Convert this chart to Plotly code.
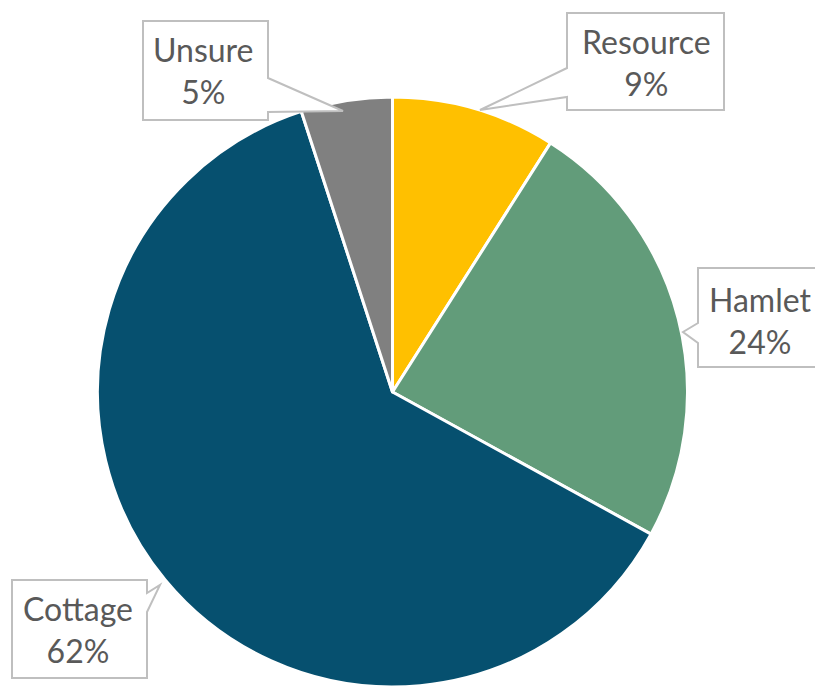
import plotly.graph_objects as go

labels = ["Resource", "Hamlet", "Cottage", "Unsure"]
values = [9, 24, 62, 5]
colors = ["#FFC000", "#629C7A", "#06506F", "#808080"]

W, H = 815, 687

cx, top = 392.5, 97
fig = go.Figure(go.Pie(
    labels=labels, values=values, sort=False, direction="clockwise", rotation=0,
    marker=dict(colors=colors, line=dict(color="white", width=3)),
    textinfo="none", hoverinfo="label+percent", showlegend=False,
    domain=dict(x=[(cx - 300) / W, (cx + 300) / W], y=[0, 1 - top / H]),
))

def px(x, y):
    return x / W, 1 - y / H

# callout geometry in pixels: box (l, t, r, b), tail (base1, tip, base2), text center
callouts = {
    "Unsure": ((143, 21, 268, 120), ((268, 78), (343, 111), (268, 112)), (203, 71)),
    "Resource": ((567, 13, 724, 110), ((567, 68), (480, 110), (567, 97)), (646, 63)),
    "Hamlet": ((698, 268, 835, 367), ((698, 323), (683, 332), (698, 343)), (760, 320)),
    "Cottage": ((12, 580, 147, 678), ((147, 593), (160, 585), (147, 612)), (78, 629)),
}

shapes, anns = [], []
total = sum(values)
for lab, val in zip(labels, values):
    (l, t, r, b), (p1, tip, p2), (tx, ty) = callouts[lab]
    if p1[0] == r:   # tail on right edge
        pts = [(l, t), (r, t), p1, tip, p2, (r, b), (l, b)]
    else:            # tail on left edge
        pts = [(l, t), (r, t), (r, b), (l, b), p2, tip, p1]
    path = "M " + " L ".join(f"{px(x, y)[0]:.5f},{px(x, y)[1]:.5f}" for x, y in pts) + " Z"
    shapes.append(dict(type="path", xref="paper", yref="paper", path=path,
                       fillcolor="white", line=dict(color="#BFBFBF", width=2), layer="above"))
    pct = round(100 * val / total)
    x, y = px(tx, ty)
    anns.append(dict(xref="paper", yref="paper", x=x, y=y, xanchor="center", yanchor="middle",
                     text=f"{lab}<br>{pct}%", showarrow=False, align="center",
                     font=dict(family="Lato, Carlito, sans-serif", size=32, color="#595959")))

fig.update_layout(
    width=W, height=H, margin=dict(l=0, r=0, t=0, b=0),
    paper_bgcolor="white", plot_bgcolor="white", annotations=anns, shapes=shapes,
)
fig.write_html("out.html", config={"displayModeBar": False},
               post_script="document.body.style.margin='0';")
